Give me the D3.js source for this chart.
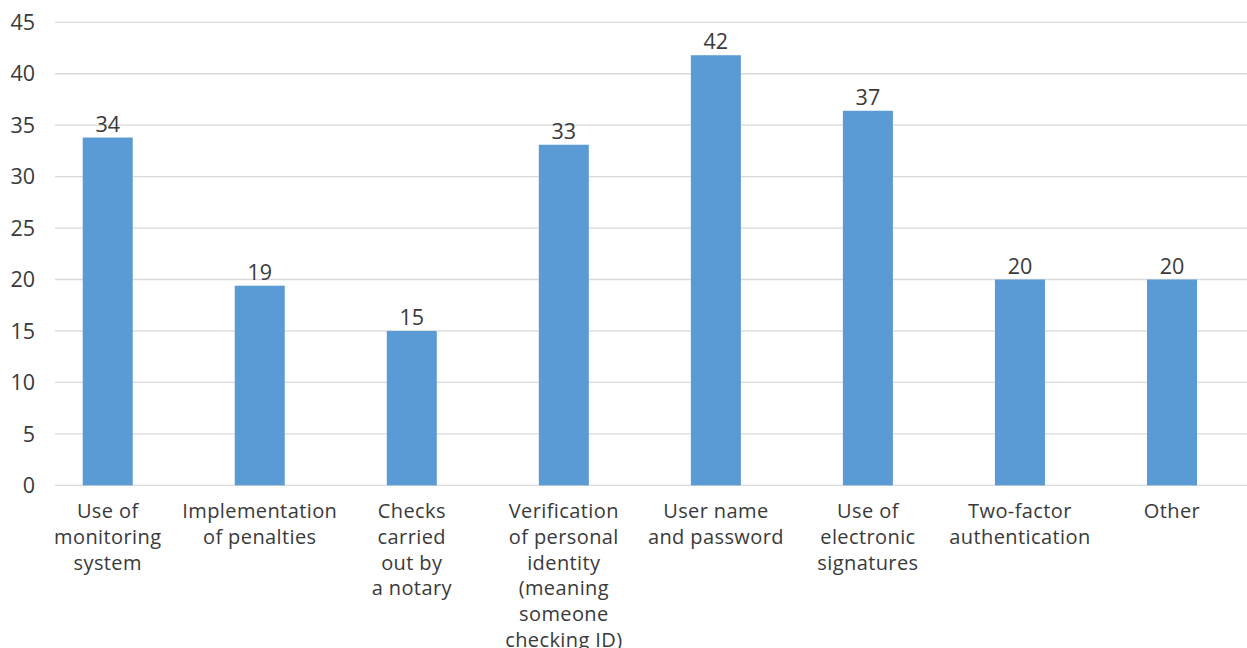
<!DOCTYPE html>
<html>
<head>
<meta charset="utf-8">
<script src="https://cdn.jsdelivr.net/npm/d3@7"></script>
<style>
  body { margin: 0; background: #fff; }
  text { font-family: "Open Sans", Lato, sans-serif; fill: #3a3a3a; }
</style>
</head>
<body>
<svg id="chart"></svg>
<script>
// categories (each entry = lines of the wrapped label)
const categories = [
  ["Use of", "monitoring", "system"],
  ["Implementation", "of penalties"],
  ["Checks", "carried", "out by", "a notary"],
  ["Verification", "of personal", "identity", "(meaning", "someone", "checking ID)"],
  ["User name", "and password"],
  ["Use of", "electronic", "signatures"],
  ["Two-factor", "authentication"],
  ["Other"]
];
// bar heights
const values = [33.8, 19.4, 15.0, 33.1, 41.8, 36.4, 20.0, 20.0];
// data labels as printed above the bars
const valueLabels = ["34", "19", "15", "33", "42", "37", "20", "20"];
const yTicks = [0, 5, 10, 15, 20, 25, 30, 35, 40, 45];

const width = 1247, height = 648;
const margin = { top: 22, bottom: 162, left: 55, right: 0 };

const svg = d3.select("#chart")
  .attr("width", width)
  .attr("height", height);

const y = d3.scaleLinear()
  .domain([0, 45])
  .range([height - margin.bottom - 0.7, margin.top + 0.3]);

// bars are spaced over a slightly wider band than the gridlines
const x = d3.scaleBand()
  .domain(d3.range(categories.length))
  .range([31.7, 1248])
  .paddingInner(0.671)
  .paddingOuter(0.3355);

// gridlines
svg.append("g")
  .selectAll("line")
  .data(yTicks)
  .join("line")
    .attr("x1", margin.left)
    .attr("x2", width)
    .attr("y1", d => y(d))
    .attr("y2", d => y(d))
    .attr("stroke", "#d9d9d9")
    .attr("stroke-width", 1.3);

// y tick labels
svg.append("g")
  .selectAll("text")
  .data(yTicks)
  .join("text")
    .attr("x", 35)
    .attr("y", d => y(d))
    .attr("dy", "0.36em")
    .attr("text-anchor", "end")
    .style("font-size", "21.5px")
    .text(d => d);

// bars
svg.append("g")
  .selectAll("rect")
  .data(values)
  .join("rect")
    .attr("x", (d, i) => x(i))
    .attr("y", d => y(d))
    .attr("width", x.bandwidth())
    .attr("height", d => y(0) - y(d))
    .attr("fill", "#5b9bd5");

// value labels
svg.append("g")
  .selectAll("text")
  .data(values)
  .join("text")
    .attr("x", (d, i) => x(i) + x.bandwidth() / 2)
    .attr("y", d => y(d) - 6)
    .attr("text-anchor", "middle")
    .style("font-size", "21.5px")
    .text((d, i) => valueLabels[i]);

// category labels
const cat = svg.append("g")
  .selectAll("text")
  .data(categories)
  .join("text")
    .attr("text-anchor", "middle")
    .style("font-size", "20px")
    .style("letter-spacing", "0.4px")
    .attr("transform", (d, i) => `translate(${x(i) + x.bandwidth() / 2},518)`);

cat.selectAll("tspan")
  .data(d => d)
  .join("tspan")
    .attr("x", 0)
    .attr("y", (d, j) => j * 25.8)
    .text(d => d);
</script>
</body>
</html>
